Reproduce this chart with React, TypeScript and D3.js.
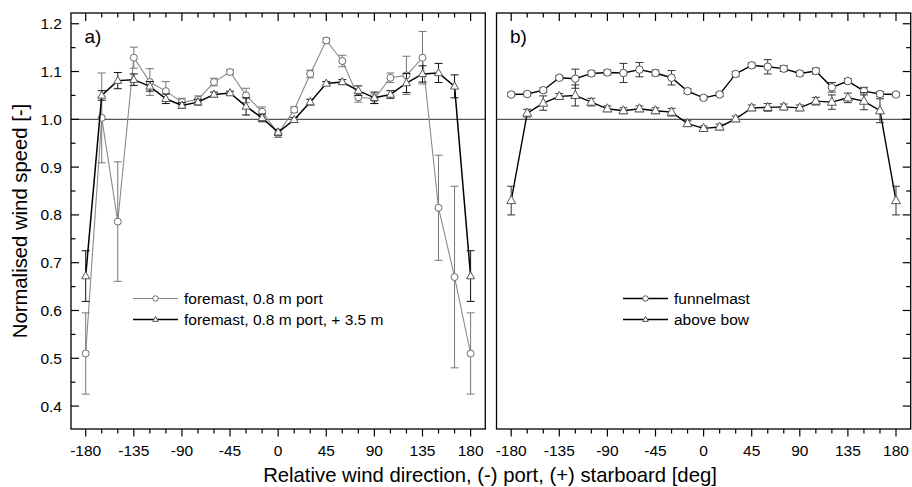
import React from "react";
import * as d3 from "d3";

const directions = d3.range(-180, 181, 15);

const foremastPort = [0.510, 1.003, 0.786, 1.129, 1.078, 1.059, 1.036, 1.041, 1.078, 1.099, 1.050, 1.016, 0.970, 1.020, 1.095, 1.165, 1.122, 1.046, 1.043, 1.087, 1.092, 1.129, 0.815, 0.670, 0.510];
const foremastPortErr = [0.085, 0.094, 0.125, 0.022, 0.028, 0.02, 0.008, 0.008, 0.008, 0.005, 0.015, 0.01, 0.008, 0.006, 0.008, 0.005, 0.012, 0.01, 0.01, 0.01, 0.04, 0.055, 0.11, 0.19, 0.085];

const foremastHigh = [0.672, 1.050, 1.081, 1.083, 1.069, 1.043, 1.029, 1.036, 1.052, 1.055, 1.027, 1.003, 0.973, 0.999, 1.036, 1.075, 1.078, 1.060, 1.045, 1.052, 1.076, 1.095, 1.097, 1.069, 0.672];
const foremastHighErr = [0.053, 0.01, 0.017, 0.012, 0.01, 0.01, 0.006, 0.006, 0.005, 0.004, 0.018, 0.008, 0.006, 0.005, 0.006, 0.004, 0.005, 0.01, 0.012, 0.008, 0.02, 0.017, 0.02, 0.024, 0.053];

const funnelmast = [1.052, 1.053, 1.061, 1.087, 1.085, 1.096, 1.098, 1.097, 1.104, 1.097, 1.087, 1.059, 1.045, 1.052, 1.095, 1.113, 1.110, 1.106, 1.096, 1.101, 1.067, 1.080, 1.059, 1.053, 1.052];
const funnelmastErr = [0.004, 0.004, 0.005, 0.004, 0.02, 0.005, 0.005, 0.02, 0.015, 0.006, 0.015, 0.005, 0.004, 0.004, 0.005, 0.005, 0.015, 0.006, 0.005, 0.006, 0.01, 0.005, 0.008, 0.005, 0.004];

const aboveBow = [0.830, 1.013, 1.034, 1.048, 1.050, 1.036, 1.022, 1.018, 1.022, 1.018, 1.015, 0.991, 0.981, 0.984, 1.001, 1.024, 1.025, 1.026, 1.024, 1.038, 1.036, 1.045, 1.038, 1.018, 0.830];
const aboveBowErr = [0.03, 0.008, 0.015, 0.006, 0.022, 0.008, 0.006, 0.006, 0.006, 0.006, 0.008, 0.006, 0.005, 0.006, 0.006, 0.006, 0.008, 0.006, 0.006, 0.008, 0.015, 0.01, 0.018, 0.025, 0.03];

const xTickLabels = ["-180", "-135", "-90", "-45", "0", "45", "90", "135", "180"];
const yTickLabels = ["0.4", "0.5", "0.6", "0.7", "0.8", "0.9", "1.0", "1.1", "1.2"];

const FONT = "'Liberation Sans', Arial, sans-serif";
const TOP = 13;
const BOTTOM = 429;

type Series = {
  name: string;
  values: number[];
  errs: number[];
  marker: "circle" | "triangle";
  lineColor: string;
  lineWidth: number;
  markerColor: string;
  errColor: string;
  size: number;
};

const triPath = (cx: number, cy: number, s: number) => {
  const h = s * 0.9;
  return `M${cx},${cy - h * 0.62}L${cx + s / 2},${cy + h * 0.38}L${cx - s / 2},${cy + h * 0.38}Z`;
};

function Marker({ kind, cx, cy, size, color }: { kind: string; cx: number; cy: number; size: number; color: string }) {
  if (kind === "circle") {
    return <circle cx={cx} cy={cy} r={size / 2} fill="white" stroke={color} strokeWidth={1} />;
  }
  return <path d={triPath(cx, cy, size)} fill="white" stroke={color} strokeWidth={1} />;
}

function Panel({
  x0, x1, label, series, yAxisSide, legendX,
}: {
  x0: number; x1: number; label: string; series: Series[]; yAxisSide: "left" | "right"; legendX: number;
}) {
  const x = d3.scaleLinear().domain([-193.75, 193.75]).range([x0, x1]);
  const y = d3.scaleLinear().domain([0.352, 1.2225]).range([BOTTOM, TOP]);
  const yTicks = d3.range(0.4, 1.2001, 0.05);
  const yMajor = yTicks.filter((_, i) => i % 2 === 0);
  const ax = yAxisSide === "left" ? x0 : x1;
  const dir = yAxisSide === "left" ? 1 : -1;

  return (
    <g>
      <line x1={x0} x2={x1} y1={y(1)} y2={y(1)} stroke="#555" strokeWidth={1.3} />
      {series.map((s) => {
        const line = d3.line<number>().x((_, i) => x(directions[i])).y((v) => y(v));
        return (
          <g key={s.name}>
            <path d={line(s.values) || ""} fill="none" stroke={s.lineColor} strokeWidth={s.lineWidth} />
            {s.values.map((v, i) => {
              const cx = x(directions[i]);
              const hi = y(v + s.errs[i]);
              const lo = y(v - s.errs[i]);
              return (
                <g key={i} stroke={s.errColor} strokeWidth={1}>
                  <line x1={cx} x2={cx} y1={hi} y2={lo} />
                  <line x1={cx - 4} x2={cx + 4} y1={hi} y2={hi} />
                  <line x1={cx - 4} x2={cx + 4} y1={lo} y2={lo} />
                </g>
              );
            })}
            {s.values.map((v, i) => (
              <Marker key={i} kind={s.marker} cx={x(directions[i])} cy={y(v)} size={s.size} color={s.markerColor} />
            ))}
          </g>
        );
      })}
      <rect x={x0} y={TOP} width={x1 - x0} height={BOTTOM - TOP} fill="none" stroke="#000" strokeWidth={1.3} />
      {directions.map((d, i) => {
        const major = i % 3 === 0;
        const tx = x(d);
        return (
          <g key={d} stroke="#000" strokeWidth={1.2}>
            <line x1={tx} x2={tx} y1={TOP} y2={TOP + (major ? 8 : 4.5)} />
            <line x1={tx} x2={tx} y1={BOTTOM} y2={BOTTOM + (major ? 7.5 : 4.5)} />
          </g>
        );
      })}
      {xTickLabels.map((t, i) => (
        <text key={t} x={x(directions[i * 3])} y={455.5} textAnchor="middle" fontFamily={FONT} fontSize={15.5} fill="#000">
          {t}
        </text>
      ))}
      {yTicks.map((v, i) => (
        <line key={i} x1={ax} x2={ax + dir * (i % 2 === 0 ? 8 : 4.5)} y1={y(v)} y2={y(v)} stroke="#000" strokeWidth={1.2} />
      ))}
      {yAxisSide === "left" &&
        yMajor.map((v, i) => (
          <text key={i} x={x0 - 9} y={y(v) + 5.5} textAnchor="end" fontFamily={FONT} fontSize={15.5} fill="#000">
            {yTickLabels[i]}
          </text>
        ))}
      <text x={x0 + 13.5} y={43} fontFamily={FONT} fontSize={19} fill="#000">{label}</text>
      {series.map((s, i) => {
        const ly = 298.5 + i * 21;
        return (
          <g key={s.name}>
            <line x1={legendX} x2={legendX + 45} y1={ly} y2={ly} stroke={s.lineColor} strokeWidth={s.lineWidth} />
            <Marker kind={s.marker} cx={legendX + 22.5} cy={ly} size={5.5} color={s.markerColor} />
            <text x={legendX + 51} y={ly + 5.5} fontFamily={FONT} fontSize={15.5} fill="#000">{s.name}</text>
          </g>
        );
      })}
    </g>
  );
}

export default function App() {
  const leftSeries: Series[] = [
    { name: "foremast, 0.8 m port", values: foremastPort, errs: foremastPortErr, marker: "circle", lineColor: "#8a8a8a", lineWidth: 1.1, markerColor: "#6a6a6a", errColor: "#777", size: 7 },
    { name: "foremast, 0.8 m port, + 3.5 m", values: foremastHigh, errs: foremastHighErr, marker: "triangle", lineColor: "#000", lineWidth: 1.5, markerColor: "#555", errColor: "#111", size: 8 },
  ];
  const rightSeries: Series[] = [
    { name: "funnelmast", values: funnelmast, errs: funnelmastErr, marker: "circle", lineColor: "#000", lineWidth: 1.4, markerColor: "#555", errColor: "#333", size: 7.5 },
    { name: "above bow", values: aboveBow, errs: aboveBowErr, marker: "triangle", lineColor: "#000", lineWidth: 1.4, markerColor: "#555", errColor: "#333", size: 9 },
  ];
  return (
    <svg width={912} height={487} style={{ position: "absolute", left: 0, top: 0, background: "#fff" }}>
      <rect width={912} height={487} fill="#fff" />
      <Panel x0={71} x1={485.3} label="a)" series={leftSeries} yAxisSide="left" legendX={133} />
      <Panel x0={496.5} x1={910.7} label="b)" series={rightSeries} yAxisSide="right" legendX={623} />
      <text x={490} y={481.5} textAnchor="middle" fontFamily={FONT} fontSize={20.3} fill="#000">
        Relative wind direction, (-) port, (+) starboard [deg]
      </text>
      <text transform="translate(27,221) rotate(-90)" textAnchor="middle" fontFamily={FONT} fontSize={20.3} fill="#000">
        Normalised wind speed [-]
      </text>
    </svg>
  );
}
